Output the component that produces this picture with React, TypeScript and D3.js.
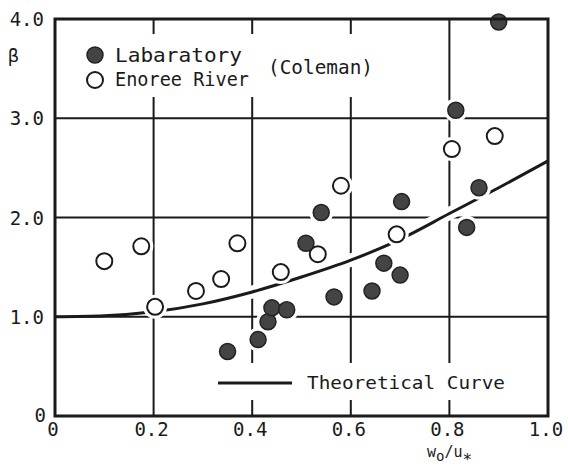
import React from "react";
import * as d3 from "d3";

const xTicks = [0, 0.2, 0.4, 0.6, 0.8, 1.0];
const xTickLabels = ["0", "0.2", "0.4", "0.6", "0.8", "1.0"];
const yTicks = [0, 1, 2, 3, 4];
const yTickLabels = ["0", "1.0", "2.0", "3.0", "4.0"];

const labX = [0.35, 0.412, 0.432, 0.44, 0.47, 0.509, 0.54, 0.566, 0.643, 0.667, 0.70, 0.703, 0.813, 0.835, 0.86, 0.90];
const labY = [0.65, 0.77, 0.95, 1.09, 1.07, 1.74, 2.05, 1.20, 1.26, 1.54, 1.42, 2.16, 3.08, 1.90, 2.30, 3.97];

const enoX = [0.10, 0.175, 0.203, 0.286, 0.337, 0.37, 0.458, 0.533, 0.58, 0.693, 0.805, 0.892];
const enoY = [1.56, 1.71, 1.10, 1.26, 1.38, 1.74, 1.45, 1.63, 2.32, 1.83, 2.69, 2.82];

const curveX = [0, 0.1, 0.2, 0.3, 0.4, 0.5, 0.6, 0.7, 0.8, 0.9, 1.0];
const curveY = [1.0, 1.01, 1.05, 1.13, 1.25, 1.4, 1.57, 1.78, 2.04, 2.3, 2.57];

const W = 568;
const H = 470;
const FONT = "'DejaVu Sans Mono', monospace";
const INK = "#1a1a1a";

export default function App() {
  const x = d3.scaleLinear().domain([0, 1]).range([55, 548]);
  const y = d3.scaleLinear().domain([0, 4]).range([416, 19]);

  const lab = labX.map((v, i) => ({ x: v, y: labY[i] }));
  const eno = enoX.map((v, i) => ({ x: v, y: enoY[i] }));
  const curve = curveX.map((v, i) => ({ x: v, y: curveY[i] }));

  const line = d3
    .line<{ x: number; y: number }>()
    .x((d) => x(d.x))
    .y((d) => y(d.y))
    .curve(d3.curveMonotoneX);

  const casing = curve.filter((d) => d.x >= 0.25);
  const r = 8;
  const halo = 12;

  return (
    <svg
      width={W}
      height={H}
      style={{ position: "absolute", left: 0, top: 0, background: "#fff" }}
      fontFamily={FONT}
    >
      <rect x={0} y={0} width={W} height={H} fill="#fff" />
      {/* grid */}
      {xTicks.slice(1, -1).map((t) => (
        <line key={"vx" + t} x1={x(t)} x2={x(t)} y1={y(4)} y2={y(0)} stroke={INK} strokeWidth={2} />
      ))}
      {yTicks.slice(1, -1).map((t) => (
        <line key={"hy" + t} x1={x(0)} x2={x(1)} y1={y(t)} y2={y(t)} stroke={INK} strokeWidth={2} />
      ))}
      {/* curve casing + curve */}
      <path d={line(casing) || ""} fill="none" stroke="#fff" strokeWidth={13} />
      <path d={line(curve) || ""} fill="none" stroke={INK} strokeWidth={3} />
      {/* legend boxes */}
      <rect x={57} y={34} width={323} height={63} fill="#fff" />
      <rect x={212} y={363} width={313} height={37} fill="#fff" />
      {/* halos */}
      {[...lab, ...eno].map((d, i) => (
        <circle key={"h" + i} cx={x(d.x)} cy={y(d.y)} r={halo} fill="#fff" />
      ))}
      {/* markers */}
      {eno.map((d, i) => (
        <circle key={"e" + i} cx={x(d.x)} cy={y(d.y)} r={r} fill="#fff" stroke={INK} strokeWidth={2} />
      ))}
      {lab.map((d, i) => (
        <circle key={"l" + i} cx={x(d.x)} cy={y(d.y)} r={r} fill="#444" stroke="#222" strokeWidth={1.5} />
      ))}
      {/* frame */}
      <rect x={x(0)} y={y(4)} width={x(1) - x(0)} height={y(0) - y(4)} fill="none" stroke={INK} strokeWidth={3} />
      {/* tick labels */}
      {yTicks.map((t, i) => (
        <text key={"yl" + t} x={t === 0 ? 46 : 44} y={y(t) + (t === 0 ? 6 : 7)} textAnchor="end" fontSize={19} fill={INK}>
          {yTickLabels[i]}
        </text>
      ))}
      {xTicks.map((t, i) => (
        <text key={"xl" + t} x={x(t) - 2} y={436} textAnchor="middle" fontSize={19} fill={INK}>
          {xTickLabels[i]}
        </text>
      ))}
      {/* axis titles */}
      <text x={8} y={62} fontSize={18} fill={INK}>β</text>
      <text x={427} y={457} fontSize={15} fill={INK}>
        <tspan>w</tspan>
        <tspan dy={4} fontSize={14}>o</tspan>
        <tspan dy={-4}>/u</tspan>
        <tspan dy={8} fontSize={16}>*</tspan>
      </text>
      {/* legend */}
      <circle cx={95} cy={55} r={r} fill="#444" stroke="#222" strokeWidth={1.5} />
      <circle cx={95} cy={80} r={r} fill="#fff" stroke={INK} strokeWidth={2} />
      <text x={115} y={62} fontSize={19} fill={INK} textLength={127} lengthAdjust="spacingAndGlyphs">Labaratory</text>
      <text x={115} y={86} fontSize={19} fill={INK} textLength={134} lengthAdjust="spacingAndGlyphs">Enoree River</text>
      <text x={268} y={74} fontSize={19} fill={INK} textLength={105} lengthAdjust="spacingAndGlyphs">(Coleman)</text>
      <line x1={218} x2={292} y1={383} y2={383} stroke={INK} strokeWidth={3} />
      <text x={307} y={389} fontSize={18} fill={INK} textLength={198} lengthAdjust="spacingAndGlyphs">Theoretical Curve</text>
    </svg>
  );
}
